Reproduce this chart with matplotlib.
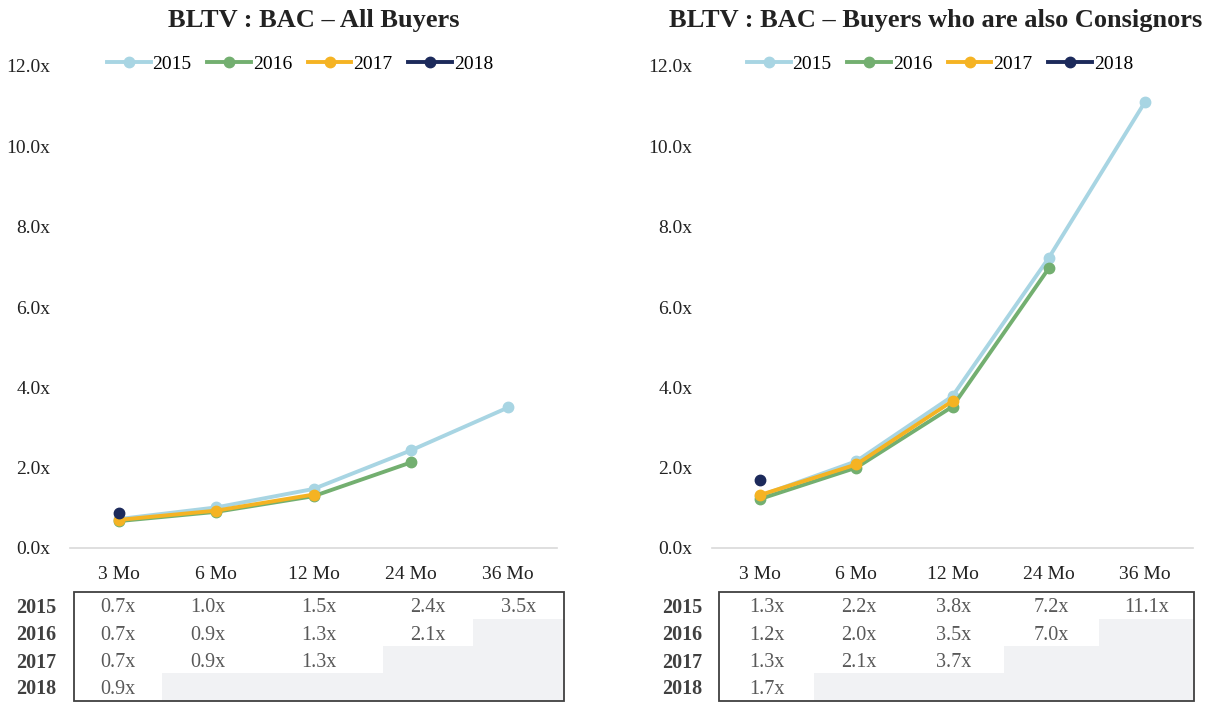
import matplotlib
matplotlib.use("Agg")
import matplotlib.pyplot as plt
from matplotlib.lines import Line2D
from matplotlib.patches import Rectangle

plt.rcParams['font.family'] = ['Liberation Serif', 'DejaVu Serif']

categories = ["3 Mo", "6 Mo", "12 Mo", "24 Mo", "36 Mo"]
years = ["2015", "2016", "2017", "2018"]

all_2015 = [0.72, 1.01, 1.47, 2.43, 3.50]
all_2016 = [0.67, 0.90, 1.29, 2.13]
all_2017 = [0.70, 0.93, 1.33]
all_2018 = [0.88]

cons_2015 = [1.30, 2.16, 3.78, 7.22, 11.10]
cons_2016 = [1.22, 2.00, 3.52, 6.96]
cons_2017 = [1.32, 2.08, 3.66]
cons_2018 = [1.70]

titles = ["BLTV : BAC \u2013 All Buyers",
          "BLTV : BAC \u2013 Buyers who are also Consignors"]
yticks = [0, 2, 4, 6, 8, 10, 12]

colors = ["#A8D5E3", "#73AF70", "#F5B323", "#1C2A5B"]

W, H = 1211, 703
fig = plt.figure(figsize=(W / 100, H / 100), dpi=100)


def fx(px):
    return px / W


def fy(py):
    return 1 - py / H


panels = [
    dict(series=[all_2015, all_2016, all_2017, all_2018], ax_px=(70, 557),
         title_x=314, legend_x=300,
         box=(74, 564), cols=[74, 162, 254, 383, 473, 564], label_x=56),
    dict(series=[cons_2015, cons_2016, cons_2017, cons_2018], ax_px=(712, 1193),
         title_x=936, legend_x=940,
         box=(719, 1194), cols=[719, 814, 904, 1004, 1099, 1194], label_x=702),
]

y_top_px, y_bot_px = 66, 548
row_edges = [592, 619, 646, 673, 701]
row_text = [608, 635.5, 662.5, 689.5]
tab_size = 14.5

for p, title in zip(panels, titles):
    l, r = p["ax_px"]
    ax = fig.add_axes([fx(l), fy(y_bot_px), fx(r - l), fy(y_top_px) - fy(y_bot_px)])
    ax.set_xlim(-0.5, len(categories) - 0.5)
    ax.set_ylim(0, 12)
    for s, c in zip(p["series"], colors):
        ax.plot(range(len(s)), s, color=c, lw=2.8, marker="o", ms=7.5,
                solid_capstyle="round", zorder=3)
    for side in ["top", "right", "left"]:
        ax.spines[side].set_visible(False)
    ax.spines["bottom"].set_color("#D9D9D9")
    ax.spines["bottom"].set_linewidth(1.2)
    ax.set_xticks(range(len(categories)))
    ax.set_xticklabels(categories, fontsize=14, color="#222222")
    ax.set_yticks(yticks)
    ax.set_yticklabels([f"{v:.1f}x" for v in yticks], fontsize=14, color="#222222")
    ax.tick_params(axis="x", length=0, pad=13)
    ax.tick_params(axis="y", length=0, pad=14)
    ax.set_facecolor("none")

    fig.text(fx(p["title_x"]), fy(21), title, fontsize=19, fontweight="bold",
             color="#222222", ha="center", va="center")

    handles = [Line2D([0], [0], color=c, lw=2.8, marker="o", ms=7.5) for c in colors]
    fig.legend(handles, years, loc="center", bbox_to_anchor=(fx(p["legend_x"]), fy(64)),
               ncol=4, frameon=False, fontsize=14, handlelength=2.25,
               handletextpad=0.1, columnspacing=0.8, borderpad=0)

    # table
    tax = fig.add_axes([0, 0, 1, 1])
    tax.set_xlim(0, W)
    tax.set_ylim(H, 0)
    tax.axis("off")
    tax.set_facecolor("none")
    cols = p["cols"]
    for ri, s in enumerate(p["series"]):
        n = len(s)
        if n < len(categories):
            x0 = cols[n]
            tax.add_patch(Rectangle((x0, row_edges[ri]), cols[-1] - x0,
                                    row_edges[ri + 1] - row_edges[ri],
                                    facecolor="#F1F2F4", edgecolor="none", zorder=1))
        for ci, v in enumerate(s):
            tax.text((cols[ci] + cols[ci + 1]) / 2, row_text[ri], f"{v:.1f}x",
                     fontsize=tab_size, color="#595959", ha="center", va="center")
        tax.text(p["label_x"], row_text[ri], years[ri], fontsize=tab_size,
                 fontweight="bold", color="#404040", ha="right", va="center")
    bx0, bx1 = p["box"]
    tax.add_patch(Rectangle((bx0, row_edges[0]), bx1 - bx0, row_edges[-1] - row_edges[0],
                            facecolor="none", edgecolor="#404040", lw=1.3, zorder=3))

fig.savefig("out.png", dpi=100, facecolor="white")
